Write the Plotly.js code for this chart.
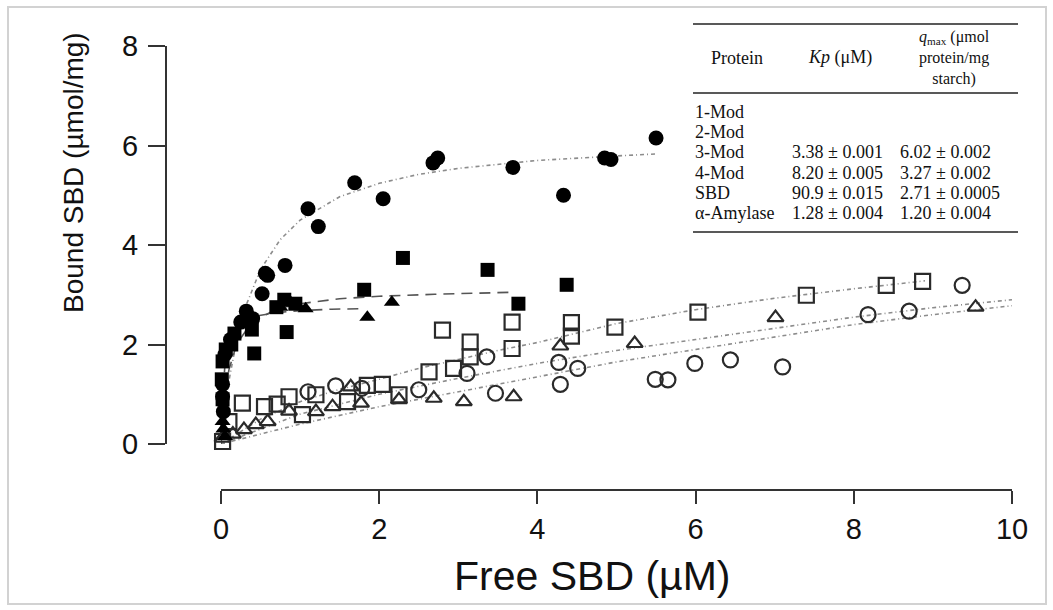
<!DOCTYPE html>
<html>
<head>
<meta charset="utf-8">
<script src="https://cdn.plot.ly/plotly-3.0.1.min.js"></script>
<style>
html,body{margin:0;padding:0;background:#fff;}
#chart{width:1053px;height:610px;}
</style>
</head>
<body>
<div id="chart"></div>
<script>
// ---- data ----
// filled circles
const fcX = [5.50, 4.93, 4.85, 4.33, 3.69, 2.74, 2.68, 2.05, 1.69, 1.23, 1.10, 0.81, 0.59, 0.56, 0.52, 0.40, 0.32, 0.25, 0.12, 0.05, 0.02, 0.02, 0.03];
const fcY = [6.15, 5.72, 5.75, 5.00, 5.56, 5.75, 5.65, 4.93, 5.25, 4.37, 4.73, 3.59, 3.39, 3.43, 3.02, 2.52, 2.67, 2.45, 2.10, 1.80, 1.20, 0.95, 0.65];
// filled squares
const fsX = [4.37, 3.76, 3.37, 2.30, 1.81, 0.83, 0.94, 0.80, 0.70, 0.42, 0.39, 0.17, 0.13, 0.06, 0.02, 0.01, 0.02];
const fsY = [3.20, 2.82, 3.50, 3.74, 3.10, 2.25, 2.82, 2.90, 2.75, 1.82, 2.30, 2.22, 2.00, 1.90, 1.66, 1.30, 0.90];
// filled triangles
const ftX = [2.16, 1.85, 1.07, 0.97, 0.88, 0.75, 0.02, 0.03, 0.05];
const ftY = [2.85, 2.55, 2.72, 2.78, 2.85, 2.75, 0.45, 0.30, 0.15];
// open squares
const osX = [8.87, 8.41, 7.40, 6.03, 4.98, 4.43, 4.43, 3.68, 3.68, 3.15, 3.15, 2.80, 2.94, 2.63, 2.04, 1.85, 2.25, 1.60, 1.20, 1.03, 0.86, 0.71, 0.55, 0.27, 0.10, 0.02];
const osY = [3.27, 3.19, 2.99, 2.65, 2.35, 2.44, 2.17, 2.45, 1.92, 2.05, 1.75, 2.29, 1.52, 1.45, 1.20, 1.18, 0.99, 0.85, 0.99, 0.59, 0.95, 0.80, 0.75, 0.82, 0.45, 0.05];
// open circles
const ocX = [9.37, 8.70, 8.18, 7.10, 6.44, 5.99, 5.65, 5.49, 4.51, 4.29, 4.27, 3.47, 3.36, 3.11, 2.50, 1.45, 1.78, 1.10];
const ocY = [3.19, 2.67, 2.60, 1.55, 1.69, 1.62, 1.29, 1.30, 1.52, 1.20, 1.64, 1.02, 1.75, 1.42, 1.09, 1.17, 1.12, 1.05];
// open triangles
const otX = [9.54, 7.01, 5.23, 4.29, 3.70, 3.07, 2.69, 2.25, 1.77, 1.64, 1.41, 1.20, 0.86, 0.59, 0.44, 0.29, 0.15, 0.02];
const otY = [2.75, 2.54, 2.02, 1.97, 0.95, 0.85, 0.92, 0.89, 0.82, 1.15, 0.75, 0.65, 0.66, 0.45, 0.39, 0.29, 0.20, 0.12];

// fitted curves
const fcFitX = [0, 0.05, 0.1, 0.2, 0.3, 0.5, 0.75, 1.0, 1.5, 2.0, 2.5, 3.0, 4.0, 5.0, 5.5];
const fcFitY = [0, 0.70, 1.27, 2.10, 2.72, 3.51, 4.11, 4.50, 4.97, 5.24, 5.42, 5.54, 5.70, 5.79, 5.83];
const fsFitX = [0, 0.02, 0.05, 0.1, 0.2, 0.4, 0.7, 1.0, 1.5, 2.0, 2.7, 3.7];
const fsFitY = [0, 0.48, 0.97, 1.49, 2.02, 2.46, 2.71, 2.82, 2.92, 2.97, 3.01, 3.05];
const ftFitX = [0, 0.02, 0.05, 0.1, 0.2, 0.4, 0.7, 1.0, 1.4, 1.8];
const ftFitY = [0, 0.90, 1.60, 2.05, 2.38, 2.56, 2.64, 2.68, 2.71, 2.72];
const osFitX = [0, 0.5, 1, 1.5, 2, 2.5, 3, 3.5, 4, 5, 6, 7, 8, 8.9];
const osFitY = [0, 0.50, 0.85, 1.10, 1.30, 1.52, 1.70, 1.88, 2.04, 2.42, 2.70, 2.93, 3.12, 3.28];
const midFitX = [0, 1, 2, 3, 4, 5, 6, 7, 8, 9, 10];
const midFitY = [0, 0.60, 1.00, 1.32, 1.62, 1.88, 2.10, 2.32, 2.55, 2.74, 2.90];
const lowFitX = [0, 1, 2, 3, 4, 5, 6, 7, 8, 9, 10];
const lowFitY = [0, 0.40, 0.75, 1.05, 1.35, 1.65, 1.90, 2.15, 2.40, 2.60, 2.78];

// axis ticks
const xTicks = [0, 2, 4, 6, 8, 10];
const yTicks = [0, 2, 4, 6, 8];

// table
const tableHead = ['Protein', '<i>Kp</i> (μM)'];
const qmaxHead = ['<i>q</i><sub>max</sub> (μmol', 'protein/mg', 'starch)'];
const proteins = ['1-Mod', '2-Mod', '3-Mod', '4-Mod', 'SBD', 'α-Amylase'];
const kpVals = ['', '', '3.38 ± 0.001', '8.20 ± 0.005', '90.9 ± 0.015', '1.28 ± 0.004'];
const qmaxVals = ['', '', '6.02 ± 0.002', '3.27 ± 0.002', '2.71 ± 0.0005', '1.20 ± 0.004'];

// ---- geometry helpers (pixel -> paper) ----
const L = 166, R = 1012, T = 46, B = 490;
const px = v => (v - L) / (R - L);
const py = v => (B - v) / (B - T);

const fitDot = {color: '#8c8c8c', width: 1.6, dash: '4px,3px,1px,3px'};
const fitDash = {color: '#555', width: 1.6, dash: '11px,7px'};

function line(x, y, ln) {
  return {x: x, y: y, type: 'scatter', mode: 'lines', line: ln, cliponaxis: false, hoverinfo: 'skip'};
}
function pts(x, y, sym, size, lw, col) {
  return {x: x, y: y, type: 'scatter', mode: 'markers', cliponaxis: false,
    marker: {symbol: sym, size: size, color: col, line: {width: lw, color: col}}};
}

const traces = [
  line(fcFitX, fcFitY, fitDot),
  line(osFitX, osFitY, fitDot),
  line(midFitX, midFitY, fitDot),
  line(lowFitX, lowFitY, fitDot),
  line(fsFitX, fsFitY, fitDash),
  line(ftFitX, ftFitY, fitDash),
  pts(osX, osY, 'square-open', 15, 2.2, '#2a2a2a'),
  pts(ocX, ocY, 'circle-open', 15, 2.2, '#2a2a2a'),
  pts(otX, otY, 'triangle-up-open', 14, 2.2, '#2a2a2a'),
  pts(fcX, fcY, 'circle', 15, 0, '#000'),
  pts(fsX, fsY, 'square', 14, 0, '#000'),
  pts(ftX, ftY, 'triangle-up', 14, 0, '#000')
];

const annotations = [];
const shapes = [];
// frame
shapes.push({type: 'rect', xref: 'paper', yref: 'paper', x0: px(8), x1: px(1046), y0: py(604), y1: py(7),
  line: {color: '#d2d2d2', width: 2}});
// table rules
[24, 93, 232].forEach(v => shapes.push({type: 'line', xref: 'paper', yref: 'paper',
  x0: px(693), x1: px(1018), y0: py(v), y1: py(v), line: {color: '#222', width: 1.4}}));

const serif = {family: 'Liberation Serif, Times New Roman, serif', size: 18, color: '#111'};
function ann(text, x, y, xa, font) {
  annotations.push({text: text, xref: 'paper', yref: 'paper', x: px(x), y: py(y),
    xanchor: xa, yanchor: 'middle', align: 'center', showarrow: false, font: font || serif});
}
ann(tableHead[0], 737, 58, 'center');
ann(tableHead[1], 840, 58, 'center');
ann(qmaxHead.join('<br>'), 954, 58, 'center',
  {family: 'Liberation Serif, Times New Roman, serif', size: 16, color: '#111'});
proteins.forEach((p, i) => {
  const yy = 112 + i * 20.2;
  ann(p, 693, yy, 'left');
  if (kpVals[i]) ann(kpVals[i], 790, yy, 'left');
  if (qmaxVals[i]) ann(qmaxVals[i], 898, yy, 'left');
});

// axis titles
annotations.push({text: 'Bound SBD (µmol/mg)', xref: 'paper', yref: 'paper', x: px(73), y: py(173),
  textangle: -90, showarrow: false, xanchor: 'center', yanchor: 'middle',
  font: {family: 'Liberation Sans, Arial, sans-serif', size: 28, color: '#111'}});
annotations.push({text: 'Free SBD (µM)', xref: 'paper', yref: 'paper', x: px(592), y: py(576),
  showarrow: false, xanchor: 'center', yanchor: 'middle',
  font: {family: 'Liberation Sans, Arial, sans-serif', size: 41, color: '#111'}});

const tickFont = {family: 'Liberation Sans, Arial, sans-serif', size: 29, color: '#111'};
const layout = {
  width: 1053, height: 610,
  margin: {l: L, r: 1053 - R, t: T, b: 610 - B, pad: 0},
  paper_bgcolor: '#fff', plot_bgcolor: 'rgba(0,0,0,0)',
  showlegend: false,
  xaxis: {range: [0, 10], domain: [(221 - L) / (R - L), 1], anchor: 'free', position: 0,
    showline: true, linecolor: '#333', linewidth: 2, ticks: 'outside', ticklen: 13, tickwidth: 2,
    tickcolor: '#333', tickvals: xTicks, ticktext: xTicks.map(String), showgrid: false, zeroline: false,
    tickfont: tickFont},
  yaxis: {range: [0, 8], domain: [(B - 444) / (B - T), 1], anchor: 'free', position: 0,
    showline: true, linecolor: '#333', linewidth: 2, ticks: 'outside', ticklen: 17, tickwidth: 2,
    tickcolor: '#333', tickvals: yTicks, ticktext: yTicks.map(String), showgrid: false, zeroline: false,
    tickfont: tickFont, ticklabelstandoff: 4},
  shapes: shapes,
  annotations: annotations
};
Plotly.newPlot('chart', traces, layout, {displayModeBar: false, staticPlot: true});
</script>
</body>
</html>
